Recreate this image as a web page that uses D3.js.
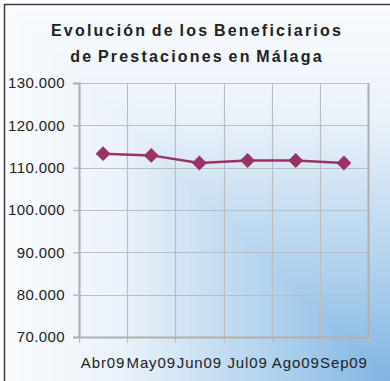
<!DOCTYPE html>
<html>
<head>
<meta charset="utf-8">
<script src="https://cdn.jsdelivr.net/npm/d3@7"></script>
<style>
  html, body { margin: 0; padding: 0; background: #fff; }
  svg { display: block; font-family: "Liberation Sans", Arial, sans-serif; }
</style>
</head>
<body>
<svg id="chart" width="390" height="381"></svg>
<script>
// Beneficiarios de prestaciones por desempleo en Málaga, abril-septiembre 2009
const months = ["Abr09", "May09", "Jun09", "Jul09", "Ago09", "Sep09"];
const beneficiarios = [113300, 112900, 111100, 111700, 111700, 111100];
const yTicks = [70000, 80000, 90000, 100000, 110000, 120000, 130000];
const titleLines = ["Evolución de los Beneficiarios", "de Prestaciones en Málaga"];

const W = 390, H = 381;
const svg = d3.select("#chart");

// Fondo: degradado rectangular que se oscurece hacia la esquina inferior derecha
const bgColor = d3.scaleLinear()
  .domain([0, 0.3, 0.5, 0.75, 1])
  .range(["#f9fbfe", "#eaf2fa", "#cde1f3", "#a8cdec", "#80b4e2"])
  .interpolate(d3.interpolateRgb);
const steps = 120;
const bg = svg.append("g");
const x0 = 4, y0 = 4;
bg.selectAll("rect")
  .data(d3.range(steps))
  .join("rect")
  .attr("x", i => x0 + (i / steps) * (W - x0))
  .attr("y", i => y0 + (i / steps) * (H - y0))
  .attr("width", i => (W - x0) * (1 - i / steps))
  .attr("height", i => (H - y0) * (1 - i / steps))
  .attr("fill", i => bgColor(i / steps));

// Marco del gráfico (bordes superior e izquierdo)
svg.append("path")
  .attr("d", `M4.5,${H} V4.5 H${W}`)
  .attr("fill", "none")
  .attr("stroke", "#3a3a3a")
  .attr("stroke-width", 1.5);

// Título
svg.append("g")
  .selectAll("text")
  .data(titleLines)
  .join("text")
  .attr("x", 197)
  .attr("y", (d, i) => 36 + i * 26)
  .attr("text-anchor", "middle")
  .attr("font-size", 16)
  .attr("font-weight", "bold")
  .attr("letter-spacing", 2.2)
  .attr("word-spacing", -2)
  .attr("fill", "#222")
  .text(d => d);

// Área de trazado
const plot = { left: 79, right: 368, top: 83, bottom: 337 };

const x = d3.scaleBand()
  .domain(months)
  .range([plot.left, plot.right]);

const y = d3.scaleLinear()
  .domain([70000, 130000])
  .range([plot.bottom, plot.top]);

const fmt = d3.formatLocale({ decimal: ",", thousands: ".", grouping: [3], currency: ["", " €"] }).format(",");

// Líneas de división horizontales
svg.append("g")
  .selectAll("line")
  .data(yTicks)
  .join("line")
  .attr("x1", plot.left)
  .attr("x2", plot.right)
  .attr("y1", d => Math.round(y(d)) + 0.5)
  .attr("y2", d => Math.round(y(d)) + 0.5)
  .attr("stroke", "#bdbdbd")
  .attr("stroke-width", 1.2);

// Líneas de división verticales entre categorías (con marcas bajo el eje)
const bounds = months.map(m => x(m)).concat([x.range()[1]]);
svg.append("g")
  .selectAll("line")
  .data(bounds)
  .join("line")
  .attr("x1", d => Math.round(d) + 0.5)
  .attr("x2", d => Math.round(d) + 0.5)
  .attr("y1", plot.top)
  .attr("y2", plot.bottom + 6)
  .attr("stroke", "#bdbdbd")
  .attr("stroke-width", 1.2);

// Ejes
const yAxis = svg.append("g")
  .attr("transform", `translate(${plot.left},0)`)
  .call(d3.axisLeft(y).tickValues(yTicks).tickFormat(fmt).tickSize(6).tickPadding(8));
yAxis.select(".domain").attr("stroke", "#b0b0b0").attr("stroke-width", 2);
yAxis.selectAll(".tick line").attr("stroke", "#b0b0b0").attr("stroke-width", 1.2);
yAxis.selectAll(".tick text")
  .attr("font-size", 15)
  .attr("letter-spacing", 0.4)
  .attr("fill", "#222")
  .attr("font-family", "'Liberation Sans', Arial, sans-serif");

const xAxis = svg.append("g")
  .attr("transform", `translate(0,${plot.bottom})`)
  .call(d3.axisBottom(x).tickSize(0).tickPadding(20));
xAxis.select(".domain").attr("stroke", "#b0b0b0").attr("stroke-width", 2);
xAxis.selectAll(".tick text")
  .attr("font-size", 15)
  .attr("letter-spacing", 0.9)
  .attr("fill", "#222")
  .attr("font-family", "'Liberation Sans', Arial, sans-serif");

// Borde derecho del área de trazado
svg.append("line")
  .attr("x1", plot.right + 0.5).attr("x2", plot.right + 0.5)
  .attr("y1", plot.top).attr("y2", plot.bottom)
  .attr("stroke", "#b0b0b0").attr("stroke-width", 2);

// Serie
const cx = d => x(d) + x.bandwidth() / 2;
const line = d3.line()
  .x((d, i) => cx(months[i]))
  .y(d => y(d));

svg.append("path")
  .datum(beneficiarios)
  .attr("d", line)
  .attr("fill", "none")
  .attr("stroke", "#993366")
  .attr("stroke-width", 2.5);

const diamond = d3.symbol().type(d3.symbolSquare).size(110);
svg.append("g")
  .selectAll("path")
  .data(beneficiarios)
  .join("path")
  .attr("d", diamond)
  .attr("transform", (d, i) => `translate(${cx(months[i])},${y(d)}) rotate(45)`)
  .attr("fill", "#993366");
</script>
</body>
</html>
